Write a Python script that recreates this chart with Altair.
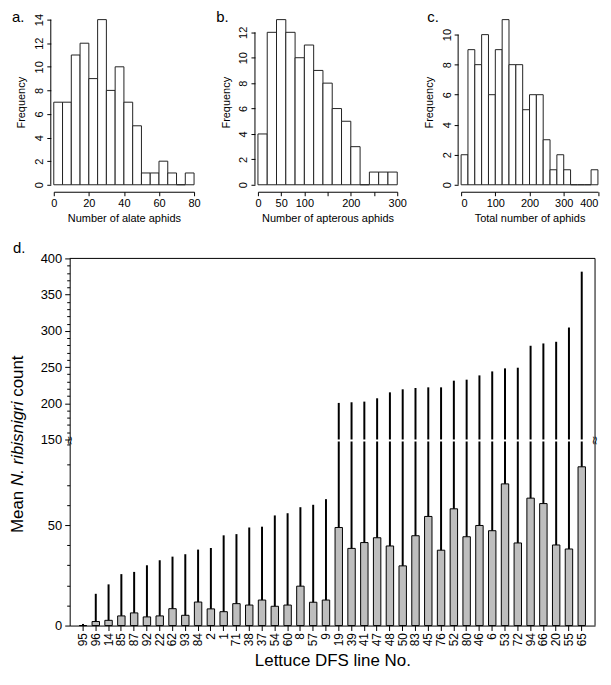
import altair as alt
import pandas as pd

FONT = "Liberation Sans"

# ---------------- data ----------------
alate_bin_width = 5
alate_bin_start = [0, 5, 10, 15, 20, 25, 30, 35, 40, 45, 50, 55, 60, 65, 70, 75]
alate_freq = [7, 7, 11, 12, 9, 14, 8, 10, 7, 5, 1, 1, 2, 1, 0, 1]

apterous_bin_width = 20
apterous_bin_start = [0, 20, 40, 60, 80, 100, 120, 140, 160, 180, 200, 220, 240, 260, 280]
apterous_freq = [4, 12, 13, 12, 10, 11, 9, 8, 6, 5, 3, 0, 1, 1, 1]

total_bin_width = 20
total_bin_start = [0, 20, 40, 60, 80, 100, 120, 140, 160, 180, 200, 220, 240, 260, 280,
                   300, 320, 340, 360, 380]
total_freq = [2, 9, 8, 10, 6, 9, 11, 8, 8, 5, 6, 6, 3, 1, 2, 1, 0, 0, 0, 1]

dfs_lines = ["95", "96", "14", "85", "87", "92", "22", "62", "93", "84", "2", "1", "71",
             "38", "37", "54", "60", "8", "57", "9", "19", "39", "41", "47", "48", "50",
             "83", "45", "76", "52", "80", "46", "6", "53", "72", "94", "66", "20", "55", "65"]
mean_count = [0.0, 2.0, 2.6, 4.8, 6.3, 4.3, 4.8, 8.4, 5.1, 11.7, 8.3, 6.9, 10.9,
              10.2, 12.7, 9.6, 10.2, 19.6, 11.6, 12.7, 48.8, 38.4, 41.3, 43.7, 39.6, 29.7,
              44.7, 54.3, 37.5, 58.1, 44.2, 49.8, 47.2, 70.5, 41.1, 63.4, 60.7, 40.1, 38.1, 79.0]
upper_count = [0.8, 15.8, 20.5, 25.6, 26.7, 30.0, 32.5, 34.3, 35.5, 37.8, 38.6, 44.9, 45.5,
               48.8, 49.2, 54.8, 55.9, 58.9, 60.1, 62.9, 200.5, 201.4, 202.3, 206.9, 215.1, 219.3,
               221.1, 222.0, 222.0, 231.2, 232.6, 238.5, 244.0, 248.2, 249.1, 279.4, 282.6, 284.9,
               304.6, 381.7]

ONE = pd.DataFrame({"k": [0]})


def histogram(starts, width, freq, x_ticks, x_title, y_ticks, letter, letter_dx,
              plot_w, hidden_labels=None, flush_last=False):
    df = pd.DataFrame({"start": starts,
                       "end": [s + width for s in starts],
                       "freq": freq})
    x_max = starts[-1] + width
    y_max = max(freq)
    xaxis = dict(values=x_ticks, title=x_title, offset=7, tickSize=4, labelPadding=2,
                 titlePadding=4, labelFontSize=11, titleFontSize=11,
                 labelOverlap=False, grid=False)
    if flush_last:
        xaxis["labelFlush"] = True
        xaxis["labelFlushOffset"] = 0
    else:
        xaxis["labelFlush"] = False
    if hidden_labels:
        cond = " || ".join(f"datum.value == {v}" for v in hidden_labels)
        xaxis["labelExpr"] = f"({cond}) ? '' : datum.label"
    yaxis = alt.Axis(values=y_ticks, title="Frequency", labelAngle=270, offset=3,
                     tickSize=4, labelPadding=2, titlePadding=7, domain=False,
                     labelOverlap=False, labelFontSize=11, titleFontSize=11, grid=False)
    bars = alt.Chart(df).mark_rect(fill="white", stroke="#222222", strokeWidth=1).encode(
        x=alt.X("start:Q", scale=alt.Scale(domain=[0, x_max], nice=False, zero=False),
                axis=alt.Axis(**xaxis)),
        x2=alt.X2("end"),
        y=alt.Y("freq:Q", scale=alt.Scale(domain=[0, y_max], nice=False), axis=yaxis),
    )
    yline = alt.Chart(ONE).mark_rule(color="black", strokeWidth=1).encode(
        x=alt.value(-3), y=alt.YDatum(0, axis=yaxis), y2=alt.Y2Datum(y_ticks[-1]))
    lab = alt.Chart(ONE).mark_text(text=letter, fontSize=15, font=FONT, align="left",
                                   baseline="alphabetic").encode(
        x=alt.value(letter_dx), y=alt.value(2))
    return alt.layer(bars, yline, lab).properties(width=plot_w, height=166)


ha = histogram(alate_bin_start, alate_bin_width, alate_freq, [0, 20, 40, 60, 80],
               "Number of alate aphids", list(range(0, 15, 2)), "a.", -42, 141)
hb = histogram(apterous_bin_start, apterous_bin_width, apterous_freq,
               [0, 50, 100, 150, 200, 250, 300], "Number of apterous aphids",
               list(range(0, 13, 2)), "b.", -42, 140, hidden_labels=[150, 250])
hc = histogram(total_bin_start, total_bin_width, total_freq, [0, 100, 200, 300, 400],
               "Total number of aphids", list(range(0, 11, 2)), "c.", -34, 137.5,
               flush_last=True)

top_row = alt.hconcat(ha, hb, hc, spacing=64.2, bounds="flush").resolve_scale(
    x="independent", y="independent")

# ---------------- panel d (broken y axis) ----------------
W = 528
H_UP = 182
H_LOW = 185
LOW_MAX = 91.6
BREAK = 150

dd = pd.DataFrame({"line": dfs_lines, "mean": mean_count, "upper": upper_count})
x_scale = alt.Scale(domain=dfs_lines, paddingInner=0.42, paddingOuter=0.75)
tick_size = {"condition": {"test": "datum.value % 50 === 0", "value": 5}, "value": 3}

up_axis = alt.Axis(title=None, values=list(range(150, 401, 10)),
                   labelExpr="datum.value % 50 === 0 ? datum.label : ''",
                   labelOverlap=False, labelFontSize=13, tickSize=tick_size,
                   labelPadding=3, grid=False)
up_err = alt.Chart(dd).transform_filter(f"datum.upper > {BREAK}").mark_rule(
    color="black", strokeWidth=2).encode(
    x=alt.X("line:N", scale=x_scale, axis=None),
    y=alt.Y("upper:Q", scale=alt.Scale(domain=[BREAK, 400], nice=False, zero=False),
            axis=up_axis),
    y2=alt.Y2Datum(BREAK),
)
up_top = alt.Chart(ONE).mark_rule(color="black", strokeWidth=1).encode(
    x=alt.value(0), x2=alt.value(W), y=alt.value(0))
up_right = alt.Chart(ONE).mark_rule(color="black", strokeWidth=1).encode(
    x=alt.value(W), y=alt.value(0), y2=alt.value(H_UP))
d_lab = alt.Chart(ONE).mark_text(text="d.", fontSize=15, font=FONT, align="left",
                                 baseline="alphabetic").encode(
    x=alt.value(-57), y=alt.value(-5))
upper = alt.layer(up_err, up_top, up_right, d_lab).properties(width=W, height=H_UP)

low_axis = alt.Axis(title=None, values=list(range(0, 91, 10)),
                    labelExpr="datum.value % 50 === 0 ? datum.label : ''",
                    labelOverlap=False, labelFontSize=13, tickSize=tick_size,
                    labelPadding=3, grid=False)
low_bars = alt.Chart(dd).mark_bar(fill="#bebebe", stroke="black", strokeWidth=1).encode(
    x=alt.X("line:N", scale=x_scale,
            axis=alt.Axis(title="Lettuce DFS line No.", labelAngle=270, labelFontSize=12,
                          tickSize=5, labelPadding=2, titleFontSize=17, titlePadding=7,
                          labelOverlap=False, grid=False)),
    y=alt.Y("mean:Q", scale=alt.Scale(domain=[0, LOW_MAX], nice=False), axis=low_axis),
)
low_err = alt.Chart(dd).transform_calculate(top=f"min(datum.upper, {LOW_MAX})").mark_rule(
    color="black", strokeWidth=2).encode(
    x=alt.X("line:N", scale=x_scale),
    y=alt.Y("mean:Q", axis=low_axis),
    y2=alt.Y2("top"),
)
low_right = alt.Chart(ONE).mark_rule(color="black", strokeWidth=1).encode(
    x=alt.value(W), y=alt.value(0), y2=alt.value(H_LOW))
brk_left = alt.Chart(ONE).mark_text(text="≈", angle=90, fontSize=12, font="DejaVu Sans",
                                    baseline="middle", align="center").encode(
    x=alt.value(0), y=alt.value(-1))
brk_right = alt.Chart(ONE).mark_text(text="≈", angle=90, fontSize=12, font="DejaVu Sans",
                                     baseline="middle", align="center").encode(
    x=alt.value(W), y=alt.value(-1))

TX = -47
t_mean = alt.Chart(ONE).mark_text(text="Mean", angle=270, fontSize=17, font=FONT,
                                  align="left", baseline="alphabetic").encode(
    x=alt.value(TX), y=alt.value(92))
t_species = alt.Chart(ONE).mark_text(text="N. ribisnigri", angle=270, fontSize=17, font=FONT,
                                     fontStyle="italic", align="left",
                                     baseline="alphabetic").encode(
    x=alt.value(TX), y=alt.value(44.8))
t_count = alt.Chart(ONE).mark_text(text="count", angle=270, fontSize=17, font=FONT,
                                   align="left", baseline="alphabetic").encode(
    x=alt.value(TX), y=alt.value(-44.9))

lower = alt.layer(low_bars, low_err, low_right, brk_left, brk_right,
                  t_mean, t_species, t_count).properties(width=W, height=H_LOW)

d_panel = alt.vconcat(upper, lower, spacing=2, bounds="flush").resolve_scale(
    x="independent", y="independent")

# invisible spacer shifting panel d right of the histogram row
spacer = alt.Chart(ONE).mark_point(opacity=0).encode(
    x=alt.value(0), y=alt.value(0)).properties(width=15.7, height=10)
d_group = alt.hconcat(spacer, d_panel, spacing=0, bounds="flush").resolve_scale(
    x="independent", y="independent")

chart = alt.vconcat(top_row, d_group, spacing=18).resolve_scale(
    x="independent", y="independent").properties(
    padding={"left": 0, "top": 0, "right": 2, "bottom": 0}
).configure_view(stroke=None).configure_axis(
    domainColor="black", tickColor="black", labelColor="black", titleColor="black",
    labelFont=FONT, titleFont=FONT, titleFontWeight="normal", grid=False,
    labelOverlap=False
).configure_text(font=FONT, color="black")

chart.save("out.html", embed_options={"renderer": "svg", "actions": False})
